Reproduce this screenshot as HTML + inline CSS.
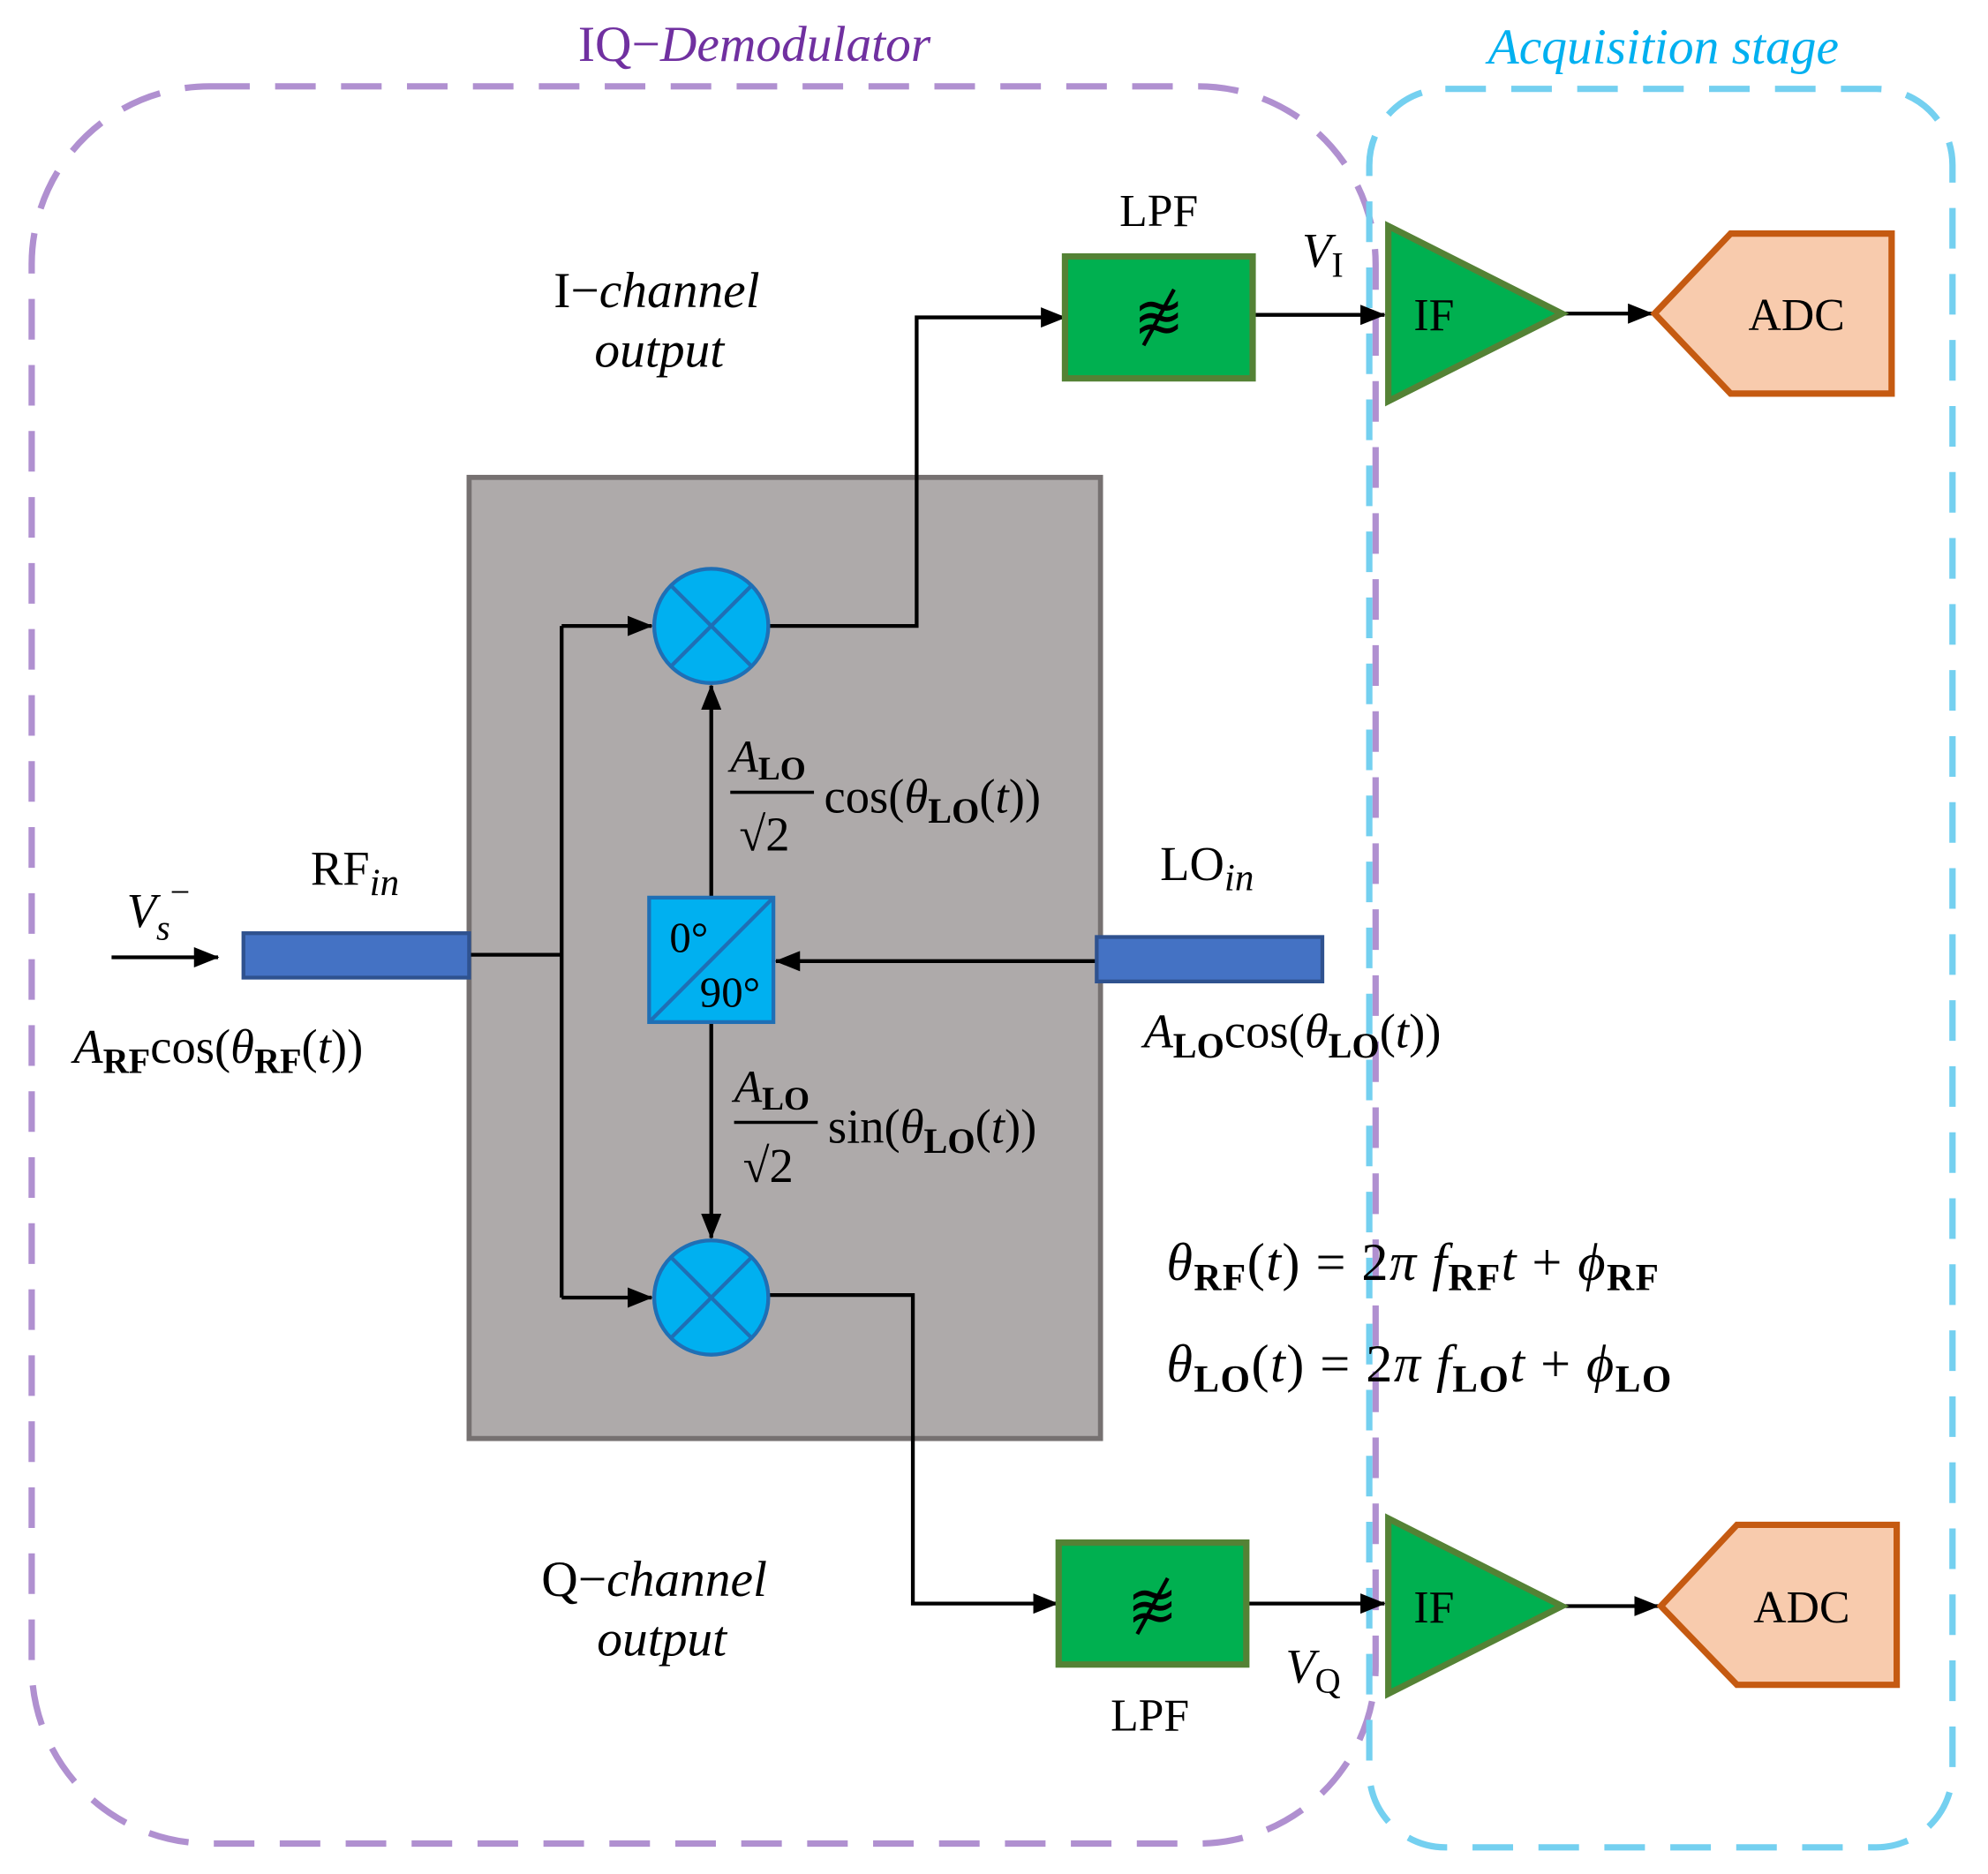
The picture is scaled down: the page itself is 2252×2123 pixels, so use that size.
<!DOCTYPE html>
<html><head><meta charset="utf-8"><style>
html,body{margin:0;padding:0;background:#fff;}
svg{display:block;}
text{font-family:"Liberation Serif",serif;fill:#000;}
</style></head><body>
<svg width="2252" height="2123" viewBox="0 0 1568 1476" preserveAspectRatio="none" xmlns="http://www.w3.org/2000/svg">
<defs>
<marker id="b" markerWidth="20" markerHeight="16" refX="19" refY="8" orient="auto" markerUnits="userSpaceOnUse">
<path d="M0,0 L20,8 L0,16 z" fill="#000"/></marker>
</defs>
<rect x="25" y="68" width="1060" height="1384" rx="140" fill="none" stroke="#b090d0" stroke-width="5" stroke-dasharray="32 20"/>
<rect x="1080" y="70" width="460" height="1385" rx="60" fill="none" stroke="#74d0f0" stroke-width="5" stroke-dasharray="32 20"/>
<text x="595" y="48" text-anchor="middle" font-size="40" style="fill:#7030a0">IQ−<tspan font-style="italic">Demodulator</tspan></text>
<text x="1312" y="50" text-anchor="middle" font-size="40" font-style="italic" style="fill:#00b0f0">Acquisition stage</text>

<rect x="370" y="376" width="498" height="757" fill="#aeaaaa" stroke="#767171" stroke-width="4"/>

<g stroke="#000" stroke-width="3" fill="none">
<line x1="88" y1="754" x2="172" y2="754" marker-end="url(#b)"/>
<polyline points="370,752 443,752"/>
<polyline points="443,493 443,1022"/>
<line x1="443" y1="493" x2="514" y2="493" marker-end="url(#b)"/>
<line x1="443" y1="1022" x2="514" y2="1022" marker-end="url(#b)"/>
<line x1="865" y1="757" x2="612" y2="757" marker-end="url(#b)"/>
<line x1="561" y1="707" x2="561" y2="540" marker-end="url(#b)"/>
<line x1="561" y1="805" x2="561" y2="975" marker-end="url(#b)"/>
<polyline points="606,493 723,493 723,250 840,250" marker-end="url(#b)"/>
<line x1="988" y1="248" x2="1092" y2="248" marker-end="url(#b)"/>
<line x1="1232" y1="247" x2="1303" y2="247" marker-end="url(#b)"/>
<polyline points="606,1020 720,1020 720,1263 834,1263" marker-end="url(#b)"/>
<line x1="983" y1="1263" x2="1092" y2="1263" marker-end="url(#b)"/>
<line x1="1232" y1="1265" x2="1308" y2="1265" marker-end="url(#b)"/>
</g>

<rect x="192" y="735" width="178" height="35" fill="#4472c4" stroke="#2f528f" stroke-width="3"/>
<rect x="865" y="738" width="178" height="35" fill="#4472c4" stroke="#2f528f" stroke-width="3"/>

<g stroke="#1f6fb5" stroke-width="3">
<circle cx="561" cy="493" r="45" fill="#00b0f0"/>
<line x1="529" y1="461" x2="593" y2="525"/><line x1="593" y1="461" x2="529" y2="525"/>
<circle cx="561" cy="1022" r="45" fill="#00b0f0"/>
<line x1="529" y1="990" x2="593" y2="1054"/><line x1="593" y1="990" x2="529" y2="1054"/>
<rect x="512" y="707" width="98" height="98" fill="#00b0f0"/>
<line x1="512" y1="805" x2="610" y2="707"/>
</g>
<text x="528" y="750" font-size="34">0°</text>
<text x="552" y="793" font-size="34">90°</text>

<rect x="840" y="202" width="148" height="96" fill="#00b050" stroke="#548235" stroke-width="5"/>
<rect x="835" y="1215" width="148" height="96" fill="#00b050" stroke="#548235" stroke-width="5"/>
<text x="914" y="266" text-anchor="middle" font-size="48">≋</text>
<line x1="902" y1="272" x2="926" y2="228" stroke="#000" stroke-width="3"/>
<text x="909" y="1281" text-anchor="middle" font-size="48">≋</text>
<line x1="897" y1="1287" x2="921" y2="1243" stroke="#000" stroke-width="3"/>

<polygon points="1095,178 1095,316 1232,247" fill="#00b050" stroke="#548235" stroke-width="5"/>
<polygon points="1095,1196 1095,1334 1232,1265" fill="#00b050" stroke="#548235" stroke-width="5"/>
<text x="1115" y="260" font-size="36">IF</text>
<text x="1115" y="1278" font-size="36">IF</text>

<polygon points="1305,247 1365,184 1492,184 1492,310 1365,310" fill="#f8cbad" stroke="#c55a11" stroke-width="5"/>
<polygon points="1310,1265 1370,1201 1496,1201 1496,1327 1370,1327" fill="#f8cbad" stroke="#c55a11" stroke-width="5"/>
<text x="1417" y="260" text-anchor="middle" font-size="36">ADC</text>
<text x="1421" y="1278" text-anchor="middle" font-size="36">ADC</text>

<text x="914" y="178" text-anchor="middle" font-size="36">LPF</text>
<text x="907" y="1363" text-anchor="middle" font-size="36">LPF</text>
<text x="1027" y="210" font-size="38" font-style="italic">V<tspan font-size="28" font-style="normal" dy="8">I</tspan></text>
<text x="1014" y="1325" font-size="38" font-style="italic">V<tspan font-size="28" font-style="normal" dy="8">Q</tspan></text>

<text x="518" y="242" text-anchor="middle" font-size="40">I−<tspan font-style="italic">channel</tspan></text>
<text x="520" y="289" text-anchor="middle" font-size="40" font-style="italic">output</text>
<text x="516" y="1257" text-anchor="middle" font-size="40">Q−<tspan font-style="italic">channel</tspan></text>
<text x="522" y="1304" text-anchor="middle" font-size="40" font-style="italic">output</text>

<text x="245" y="697" font-size="38">RF<tspan font-style="italic" font-size="30" dy="8">in</tspan></text>
<text x="915" y="693" font-size="38">LO<tspan font-style="italic" font-size="30" dy="8">in</tspan></text>
<text x="100" y="730" font-size="38" font-style="italic">V<tspan font-size="28" dy="10">s</tspan><tspan font-size="28" font-style="normal" dy="-28">−</tspan></text>

<text x="58" y="837" font-size="38"><tspan font-style="italic">A</tspan><tspan font-size="28" font-weight="bold" dy="8">RF</tspan><tspan dy="-8">cos(</tspan><tspan font-style="italic">θ</tspan><tspan font-size="28" font-weight="bold" dy="8">RF</tspan><tspan dy="-8">(</tspan><tspan font-style="italic">t</tspan>))</text>
<text x="902" y="825" font-size="38"><tspan font-style="italic">A</tspan><tspan font-size="28" font-weight="bold" dy="8">LO</tspan><tspan dy="-8">cos(</tspan><tspan font-style="italic">θ</tspan><tspan font-size="28" font-weight="bold" dy="8">LO</tspan><tspan dy="-8">(</tspan><tspan font-style="italic">t</tspan>))</text>

<text x="576" y="608" font-size="36"><tspan font-style="italic">A</tspan><tspan font-size="26" font-weight="bold" dy="6">LO</tspan></text>
<line x1="576" y1="624" x2="642" y2="624" stroke="#000" stroke-width="2.5"/>
<text x="583" y="670" font-size="38">√2</text>
<text x="650" y="640" font-size="38">cos(<tspan font-style="italic">θ</tspan><tspan font-size="28" font-weight="bold" dy="8">LO</tspan><tspan dy="-8">(</tspan><tspan font-style="italic">t</tspan>))</text>

<text x="579" y="868" font-size="36"><tspan font-style="italic">A</tspan><tspan font-size="26" font-weight="bold" dy="6">LO</tspan></text>
<line x1="579" y1="884" x2="645" y2="884" stroke="#000" stroke-width="2.5"/>
<text x="586" y="931" font-size="38">√2</text>
<text x="653" y="900" font-size="38">sin(<tspan font-style="italic">θ</tspan><tspan font-size="28" font-weight="bold" dy="8">LO</tspan><tspan dy="-8">(</tspan><tspan font-style="italic">t</tspan>))</text>

<text x="920" y="1008" font-size="42" letter-spacing="1"><tspan font-style="italic">θ</tspan><tspan font-size="30" font-weight="bold" dy="8">RF</tspan><tspan dy="-8">(</tspan><tspan font-style="italic">t</tspan>) = 2<tspan font-style="italic">π f</tspan><tspan font-size="30" font-weight="bold" dy="8">RF</tspan><tspan font-style="italic" dy="-8">t</tspan> + <tspan font-style="italic">ϕ</tspan><tspan font-size="30" font-weight="bold" dy="8">RF</tspan></text>
<text x="920" y="1088" font-size="42" letter-spacing="1"><tspan font-style="italic">θ</tspan><tspan font-size="30" font-weight="bold" dy="8">LO</tspan><tspan dy="-8">(</tspan><tspan font-style="italic">t</tspan>) = 2<tspan font-style="italic">π f</tspan><tspan font-size="30" font-weight="bold" dy="8">LO</tspan><tspan font-style="italic" dy="-8">t</tspan> + <tspan font-style="italic">ϕ</tspan><tspan font-size="30" font-weight="bold" dy="8">LO</tspan></text>
</svg>
</body></html>
